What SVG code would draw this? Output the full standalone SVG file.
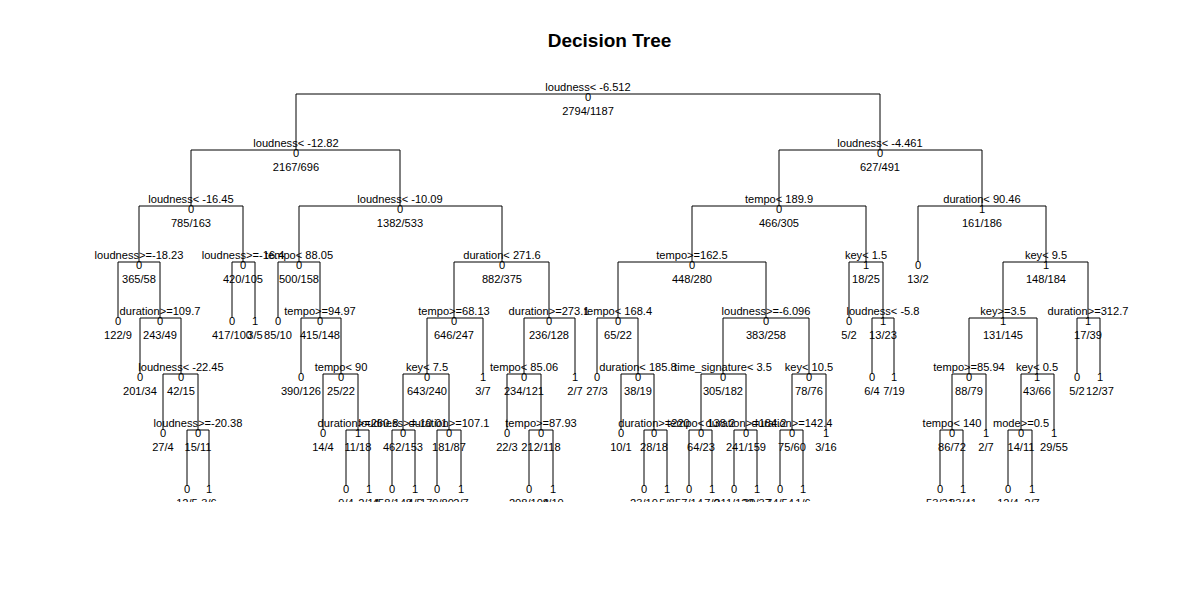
<svg xmlns="http://www.w3.org/2000/svg" width="1180" height="600" viewBox="0 0 1180 600">
<style>
text{font-family:"Liberation Sans",Arial,Helvetica,sans-serif;font-size:11.1px;text-anchor:middle;fill:#000}
.title{font-size:19px;font-weight:bold}
.br{fill:none;stroke:#000;stroke-width:1}
</style>
<defs><clipPath id="plot"><rect x="0" y="60" width="1180" height="442"/></clipPath></defs>
<rect width="1180" height="600" fill="#fff"/>
<text class="title" x="609.5" y="47.3">Decision Tree</text>
<g clip-path="url(#plot)">
<g id="connectors" class="br">
<path class="br" d="M296 150V94H880V150M191 206V150H400V206M779 206V150H982V206M139 262V206H243V262M299 262V206H502V262M692 262V206H866V262M918 262V206H1046V262M118 318V262H160V318M232 318V262H255V318M278 318V262H320V318M454 318V262H549V318M618 318V262H766V318M849 318V262H883V318M1003 318V262H1088V318M140 374V318H181V374M301 374V318H341V374M427 374V318H483V374M524 374V318H575V374M597 374V318H638V374M723 374V318H809V374M872 374V318H894V374M969 374V318H1037V374M1077 374V318H1100V374M163 430V374H198V430M323 430V374H358V430M403 430V374H449V430M507 430V374H541V430M621 430V374H654V430M701 430V374H746V430M792 430V374H826V430M952 430V374H986V430M1021 430V374H1054V430M187 486V430H209V486M346 486V430H369V486M392 486V430H415V486M437 486V430H461V486M529 486V430H553V486M644 486V430H667V486M689 486V430H712V486M734 486V430H757V486M780 486V430H803V486M940 486V430H963V486M1008 486V430H1032V486"/>
</g>
<g id="n1"><text x="588" y="91">loudness&lt; -6.512</text><text x="588" y="101">0</text><text x="588" y="114.5">2794/1187</text></g>
<g id="n2"><text x="296" y="147">loudness&lt; -12.82</text><text x="296" y="157">0</text><text x="296" y="170.5">2167/696</text></g>
<g id="n3"><text x="880" y="147">loudness&lt; -4.461</text><text x="880" y="157">0</text><text x="880" y="170.5">627/491</text></g>
<g id="n4"><text x="191" y="203">loudness&lt; -16.45</text><text x="191" y="213">0</text><text x="191" y="226.5">785/163</text></g>
<g id="n5"><text x="400" y="203">loudness&lt; -10.09</text><text x="400" y="213">0</text><text x="400" y="226.5">1382/533</text></g>
<g id="n6"><text x="779" y="203">tempo&lt; 189.9</text><text x="779" y="213">0</text><text x="779" y="226.5">466/305</text></g>
<g id="n7"><text x="982" y="203">duration&lt; 90.46</text><text x="982" y="213">1</text><text x="982" y="226.5">161/186</text></g>
<g id="n8"><text x="139" y="259">loudness&gt;=-18.23</text><text x="139" y="269">0</text><text x="139" y="282.5">365/58</text></g>
<g id="n9"><text x="243" y="259">loudness&gt;=-16.4</text><text x="243" y="269">0</text><text x="243" y="282.5">420/105</text></g>
<g id="n10"><text x="299" y="259">tempo&lt; 88.05</text><text x="299" y="269">0</text><text x="299" y="282.5">500/158</text></g>
<g id="n11"><text x="502" y="259">duration&lt; 271.6</text><text x="502" y="269">0</text><text x="502" y="282.5">882/375</text></g>
<g id="n12"><text x="692" y="259">tempo&gt;=162.5</text><text x="692" y="269">0</text><text x="692" y="282.5">448/280</text></g>
<g id="n13"><text x="866" y="259">key&lt; 1.5</text><text x="866" y="269">1</text><text x="866" y="282.5">18/25</text></g>
<g id="n14"><text x="918" y="269">0</text><text x="918" y="282.5">13/2</text></g>
<g id="n15"><text x="1046" y="259">key&lt; 9.5</text><text x="1046" y="269">1</text><text x="1046" y="282.5">148/184</text></g>
<g id="n16"><text x="118" y="325">0</text><text x="118" y="338.5">122/9</text></g>
<g id="n17"><text x="160" y="315">duration&gt;=109.7</text><text x="160" y="325">0</text><text x="160" y="338.5">243/49</text></g>
<g id="n18"><text x="232" y="325">0</text><text x="232" y="338.5">417/100</text></g>
<g id="n19"><text x="255" y="325">1</text><text x="255" y="338.5">3/5</text></g>
<g id="n20"><text x="278" y="325">0</text><text x="278" y="338.5">85/10</text></g>
<g id="n21"><text x="320" y="315">tempo&gt;=94.97</text><text x="320" y="325">0</text><text x="320" y="338.5">415/148</text></g>
<g id="n22"><text x="454" y="315">tempo&gt;=68.13</text><text x="454" y="325">0</text><text x="454" y="338.5">646/247</text></g>
<g id="n23"><text x="549" y="315">duration&gt;=273.1</text><text x="549" y="325">0</text><text x="549" y="338.5">236/128</text></g>
<g id="n24"><text x="618" y="315">tempo&lt; 168.4</text><text x="618" y="325">0</text><text x="618" y="338.5">65/22</text></g>
<g id="n25"><text x="766" y="315">loudness&gt;=-6.096</text><text x="766" y="325">0</text><text x="766" y="338.5">383/258</text></g>
<g id="n26"><text x="849" y="325">0</text><text x="849" y="338.5">5/2</text></g>
<g id="n27"><text x="883" y="315">loudness&lt; -5.8</text><text x="883" y="325">1</text><text x="883" y="338.5">13/23</text></g>
<g id="n28"><text x="1003" y="315">key&gt;=3.5</text><text x="1003" y="325">1</text><text x="1003" y="338.5">131/145</text></g>
<g id="n29"><text x="1088" y="315">duration&gt;=312.7</text><text x="1088" y="325">1</text><text x="1088" y="338.5">17/39</text></g>
<g id="n30"><text x="140" y="381">0</text><text x="140" y="394.5">201/34</text></g>
<g id="n31"><text x="181" y="371">loudness&lt; -22.45</text><text x="181" y="381">0</text><text x="181" y="394.5">42/15</text></g>
<g id="n32"><text x="301" y="381">0</text><text x="301" y="394.5">390/126</text></g>
<g id="n33"><text x="341" y="371">tempo&lt; 90</text><text x="341" y="381">0</text><text x="341" y="394.5">25/22</text></g>
<g id="n34"><text x="427" y="371">key&lt; 7.5</text><text x="427" y="381">0</text><text x="427" y="394.5">643/240</text></g>
<g id="n35"><text x="483" y="381">1</text><text x="483" y="394.5">3/7</text></g>
<g id="n36"><text x="524" y="371">tempo&lt; 85.06</text><text x="524" y="381">0</text><text x="524" y="394.5">234/121</text></g>
<g id="n37"><text x="575" y="381">1</text><text x="575" y="394.5">2/7</text></g>
<g id="n38"><text x="597" y="381">0</text><text x="597" y="394.5">27/3</text></g>
<g id="n39"><text x="638" y="371">duration&lt; 185.8</text><text x="638" y="381">0</text><text x="638" y="394.5">38/19</text></g>
<g id="n40"><text x="723" y="371">time_signature&lt; 3.5</text><text x="723" y="381">0</text><text x="723" y="394.5">305/182</text></g>
<g id="n41"><text x="809" y="371">key&lt; 10.5</text><text x="809" y="381">0</text><text x="809" y="394.5">78/76</text></g>
<g id="n42"><text x="872" y="381">0</text><text x="872" y="394.5">6/4</text></g>
<g id="n43"><text x="894" y="381">1</text><text x="894" y="394.5">7/19</text></g>
<g id="n44"><text x="969" y="371">tempo&gt;=85.94</text><text x="969" y="381">0</text><text x="969" y="394.5">88/79</text></g>
<g id="n45"><text x="1037" y="371">key&lt; 0.5</text><text x="1037" y="381">1</text><text x="1037" y="394.5">43/66</text></g>
<g id="n46"><text x="1077" y="381">0</text><text x="1077" y="394.5">5/2</text></g>
<g id="n47"><text x="1100" y="381">1</text><text x="1100" y="394.5">12/37</text></g>
<g id="n48"><text x="163" y="437">0</text><text x="163" y="450.5">27/4</text></g>
<g id="n49"><text x="198" y="427">loudness&gt;=-20.38</text><text x="198" y="437">0</text><text x="198" y="450.5">15/11</text></g>
<g id="n50"><text x="323" y="437">0</text><text x="323" y="450.5">14/4</text></g>
<g id="n51"><text x="358" y="427">duration&gt;=260.8</text><text x="358" y="437">1</text><text x="358" y="450.5">11/18</text></g>
<g id="n52"><text x="403" y="427">loudness&gt;=-10.01</text><text x="403" y="437">0</text><text x="403" y="450.5">462/153</text></g>
<g id="n53"><text x="449" y="427">duration&gt;=107.1</text><text x="449" y="437">0</text><text x="449" y="450.5">181/87</text></g>
<g id="n54"><text x="507" y="437">0</text><text x="507" y="450.5">22/3</text></g>
<g id="n55"><text x="541" y="427">tempo&gt;=87.93</text><text x="541" y="437">0</text><text x="541" y="450.5">212/118</text></g>
<g id="n56"><text x="621" y="437">0</text><text x="621" y="450.5">10/1</text></g>
<g id="n57"><text x="654" y="427">duration&gt;=220</text><text x="654" y="437">0</text><text x="654" y="450.5">28/18</text></g>
<g id="n58"><text x="701" y="427">tempo&lt; 138.2</text><text x="701" y="437">0</text><text x="701" y="450.5">64/23</text></g>
<g id="n59"><text x="746" y="427">duration&gt;=184.2</text><text x="746" y="437">0</text><text x="746" y="450.5">241/159</text></g>
<g id="n60"><text x="792" y="427">duration&gt;=142.4</text><text x="792" y="437">0</text><text x="792" y="450.5">75/60</text></g>
<g id="n61"><text x="826" y="437">1</text><text x="826" y="450.5">3/16</text></g>
<g id="n62"><text x="952" y="427">tempo&lt; 140</text><text x="952" y="437">0</text><text x="952" y="450.5">86/72</text></g>
<g id="n63"><text x="986" y="437">1</text><text x="986" y="450.5">2/7</text></g>
<g id="n64"><text x="1021" y="427">mode&gt;=0.5</text><text x="1021" y="437">0</text><text x="1021" y="450.5">14/11</text></g>
<g id="n65"><text x="1054" y="437">1</text><text x="1054" y="450.5">29/55</text></g>
<g id="n66"><text x="187" y="493">0</text><text x="187" y="506.5">12/5</text></g>
<g id="n67"><text x="209" y="493">1</text><text x="209" y="506.5">3/6</text></g>
<g id="n68"><text x="346" y="493">0</text><text x="346" y="506.5">9/4</text></g>
<g id="n69"><text x="369" y="493">1</text><text x="369" y="506.5">2/14</text></g>
<g id="n70"><text x="392" y="493">0</text><text x="392" y="506.5">458/148</text></g>
<g id="n71"><text x="415" y="493">1</text><text x="415" y="506.5">4/5</text></g>
<g id="n72"><text x="437" y="493">0</text><text x="437" y="506.5">179/80</text></g>
<g id="n73"><text x="461" y="493">1</text><text x="461" y="506.5">2/7</text></g>
<g id="n74"><text x="529" y="493">0</text><text x="529" y="506.5">208/108</text></g>
<g id="n75"><text x="553" y="493">1</text><text x="553" y="506.5">4/10</text></g>
<g id="n76"><text x="644" y="493">0</text><text x="644" y="506.5">23/10</text></g>
<g id="n77"><text x="667" y="493">1</text><text x="667" y="506.5">5/8</text></g>
<g id="n78"><text x="689" y="493">0</text><text x="689" y="506.5">57/14</text></g>
<g id="n79"><text x="712" y="493">1</text><text x="712" y="506.5">7/9</text></g>
<g id="n80"><text x="734" y="493">0</text><text x="734" y="506.5">211/122</text></g>
<g id="n81"><text x="757" y="493">1</text><text x="757" y="506.5">30/37</text></g>
<g id="n82"><text x="780" y="493">0</text><text x="780" y="506.5">74/54</text></g>
<g id="n83"><text x="803" y="493">1</text><text x="803" y="506.5">1/6</text></g>
<g id="n84"><text x="940" y="493">0</text><text x="940" y="506.5">53/31</text></g>
<g id="n85"><text x="963" y="493">1</text><text x="963" y="506.5">33/41</text></g>
<g id="n86"><text x="1008" y="493">0</text><text x="1008" y="506.5">12/4</text></g>
<g id="n87"><text x="1032" y="493">1</text><text x="1032" y="506.5">2/7</text></g>
</g>
</svg>
